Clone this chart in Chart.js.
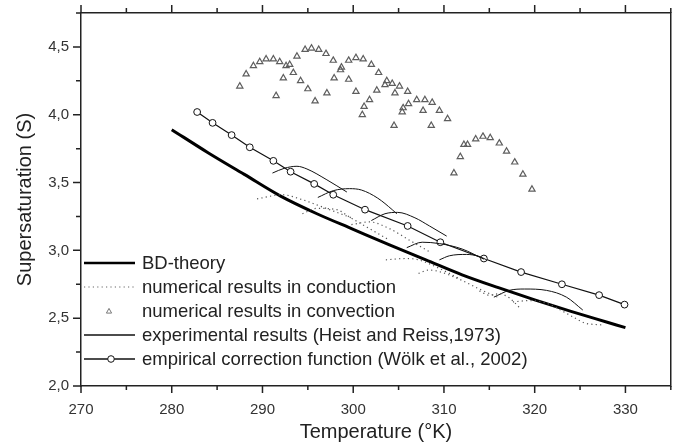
<!DOCTYPE html>
<html><head><meta charset="utf-8">
<script src="https://cdn.jsdelivr.net/npm/chart.js@4/dist/chart.umd.min.js"></script>
<style>html,body{margin:0;padding:0;background:#fff;}canvas{display:block;}</style>
</head><body>
<canvas id="c" width="676" height="447"></canvas>
<script>
// ---- tick labels & legend ----
const xTickLabels = ['270','280','290','300','310','320','330'];
const yTickLabels = ['2,0','2,5','3,0','3,5','4,0','4,5'];
const legendLabels = [
  'BD-theory',
  'numerical results in conduction',
  'numerical results in convection',
  'experimental results (Heist and Reiss,1973)',
  'empirical correction function (Wölk et al., 2002)'
];

// ---- BD-theory ----
const bdT = [280,284,288,292,296,300,304,308,312,316,320,324,328,330];
const bdS = [3.89,3.72,3.56,3.40,3.27,3.155,3.04,2.93,2.82,2.725,2.635,2.55,2.47,2.43];

// ---- empirical correction function (Wölk et al., 2002) ----
const empT = [282.8,284.5,286.6,288.6,291.2,293.1,295.7,297.8,301.3,306.0,309.6,314.4,318.5,323.0,327.1,329.9];
const empS = [4.02,3.94,3.85,3.76,3.66,3.58,3.49,3.41,3.30,3.18,3.06,2.94,2.84,2.75,2.67,2.60];

// ---- experimental results (Heist and Reiss, 1973): [T, S] ----
const exp1 = [[291.1,3.57],[292.4,3.605],[293.8,3.62],[294.9,3.60],[297.1,3.52],[299.3,3.43]];
const exp2 = [[296.1,3.39],[297.8,3.44],[299.6,3.455],[300.9,3.445],[302.7,3.385],[304.3,3.30],[304.8,3.27]];
const exp3 = [[302.0,3.22],[303.5,3.27],[304.9,3.28],[306.8,3.24],[308.4,3.18],[310.3,3.105]];
const exp4 = [[305.9,3.02],[307.6,3.06],[309.5,3.05],[312.0,3.01],[314.4,2.935]];
const exp5 = [[309.5,2.93],[310.6,2.96],[312.5,2.97],[313.9,2.955],[314.7,2.93]];
const exp6 = [[315.5,2.655],[317.2,2.705],[318.9,2.715],[321.3,2.705],[323.5,2.655],[325.3,2.56]];

// ---- numerical results in conduction: [T, S] ----
const cond1 = [[289.4,3.38],[292.2,3.41],[294.1,3.38],[296.6,3.32],[298.2,3.28],[299.8,3.24]];
const cond2 = [[294.4,3.27],[296.0,3.31],[298.2,3.30],[299.6,3.245],[301.8,3.16],[304.0,3.075]];
const cond3 = [[299.8,3.19],[301.8,3.21],[304.0,3.16],[306.2,3.075],[308.4,2.99]];
const cond4 = [[303.6,2.93],[305.8,2.94],[307.2,2.93],[309.4,2.87],[311.6,2.795]];
const cond5 = [[307.2,2.83],[308.3,2.855],[309.4,2.845],[311.6,2.79],[313.9,2.715],[316.1,2.65]];
const cond6 = [[313.9,2.70],[315.0,2.67],[316.1,2.68],[317.2,2.65],[318.3,2.58]];
const cond7 = [[317.6,2.62],[319.5,2.63],[321.3,2.61],[324.2,2.51],[325.5,2.465],[327.5,2.45]];

// ---- numerical results in convection ----
const convT = [287.5,288.2,289.0,289.7,290.4,291.2,291.9,292.6,293.0,293.4,292.3,291.5,294.2,295.0,295.8,297.1,
  293.8,294.7,295.4,296.2,297.0,297.8,298.7,298.6,297.9,299.5,299.5,300.3,301.1,302.0,302.8,300.3,301.8,301.2,301.0,
  302.6,303.5,303.7,304.3,305.1,304.6,306.0,305.5,305.4,304.5,306.1,307.0,307.9,308.7,309.5,310.4,307.7,308.6,
  311.1,311.8,312.2,312.6,313.5,314.3,315.1,316.1,316.9,317.8,318.7,319.7];
const convS = [4.21,4.30,4.36,4.39,4.41,4.41,4.39,4.36,4.37,4.31,4.27,4.14,4.25,4.19,4.10,4.16,
  4.43,4.48,4.49,4.48,4.45,4.40,4.35,4.33,4.27,4.26,4.40,4.42,4.41,4.37,4.31,4.17,4.11,4.06,4.00,
  4.18,4.22,4.25,4.23,4.21,4.16,4.17,4.05,4.02,3.92,4.08,4.11,4.11,4.09,4.03,3.97,4.03,3.92,
  3.57,3.69,3.78,3.78,3.82,3.84,3.83,3.79,3.73,3.65,3.56,3.45];

const FONT = '"Liberation Sans", Arial, Helvetica, sans-serif';
const INK = '#222';

const pairs = a => a.map(p => ({x: p[0], y: p[1]}));
const zip = (t, s) => t.map((v, i) => ({x: v, y: s[i]}));

const expSets = [exp1, exp2, exp3, exp4, exp5, exp6].map((a, i) => ({
  label: 'exp' + (i + 1), data: pairs(a), borderColor: '#111', borderWidth: 1,
  pointRadius: 0, cubicInterpolationMode: 'monotone', fill: false
}));
const condSets = [cond1, cond2, cond3, cond4, cond5, cond6, cond7].map((a, i) => ({
  label: 'cond' + (i + 1), data: pairs(a), borderColor: '#555', borderWidth: 1.2, borderDash: [1.2, 3.2],
  pointRadius: 0, cubicInterpolationMode: 'monotone', fill: false
}));

const noPad = s => { s.paddingLeft = 0; s.paddingRight = 0; s.paddingTop = 0; s.paddingBottom = 0; };

const frameTicks = {
  id: 'frameTicks',
  afterDraw(chart) {
    const {ctx, chartArea: a, scales: {x, y}} = chart;
    ctx.save();
    ctx.strokeStyle = INK; ctx.lineWidth = 1.5;
    ctx.beginPath();
    for (let k = 0; k <= 13; k++) {
      const v = 270 + k * 5;
      const px = x.getPixelForValue(v);
      const major = k % 2 === 0;
      ctx.moveTo(px, a.bottom); ctx.lineTo(px, a.bottom + (major ? 7 : 4));
      ctx.moveTo(px, a.top); ctx.lineTo(px, a.top - (major ? 8 : 5));
    }
    for (let k = 0; k <= 11; k++) {
      const v = 2 + k * 0.25;
      const py = y.getPixelForValue(v);
      const major = k % 2 === 0;
      ctx.moveTo(a.left, py); ctx.lineTo(a.left - (major ? 8 : 5), py);
    }
    ctx.stroke();
    ctx.restore();
  }
};

const legendBox = {
  id: 'legendBox',
  afterDraw(chart) {
    const ctx = chart.ctx;
    const x0 = 84, x1 = 135, tx = 142;
    const rows = [263, 287, 311, 335, 359];
    ctx.save();
    rows.forEach((ry, i) => {
      ctx.beginPath();
      ctx.setLineDash([]);
      if (i === 0) { ctx.strokeStyle = '#000'; ctx.lineWidth = 2.6; ctx.moveTo(x0, ry); ctx.lineTo(x1, ry); ctx.stroke(); }
      if (i === 1) { ctx.strokeStyle = '#666'; ctx.lineWidth = 1.2; ctx.setLineDash([1.2, 3.2]); ctx.moveTo(x0, ry); ctx.lineTo(x1, ry); ctx.stroke(); ctx.setLineDash([]); }
      if (i === 2) { ctx.strokeStyle = '#777'; ctx.lineWidth = 1; const cx = 109, r = 2.6;
        ctx.moveTo(cx, ry - r); ctx.lineTo(cx + r, ry + r * 0.8); ctx.lineTo(cx - r, ry + r * 0.8); ctx.closePath(); ctx.stroke(); }
      if (i === 3) { ctx.strokeStyle = '#111'; ctx.lineWidth = 1.3; ctx.moveTo(x0, ry); ctx.lineTo(x1, ry); ctx.stroke(); }
      if (i === 4) { ctx.strokeStyle = '#111'; ctx.lineWidth = 1.3; ctx.moveTo(x0, ry); ctx.lineTo(x1, ry); ctx.stroke();
        ctx.beginPath(); ctx.arc(111, ry, 3.3, 0, Math.PI * 2); ctx.fillStyle = '#fff'; ctx.fill(); ctx.lineWidth = 1; ctx.stroke(); }
      ctx.fillStyle = INK; ctx.font = '18.5px ' + FONT; ctx.textBaseline = 'middle'; ctx.textAlign = 'left';
      ctx.fillText(legendLabels[i], tx, ry + 1);
    });
    ctx.restore();
  }
};

new Chart(document.getElementById('c'), {
  type: 'line',
  data: {
    datasets: [
      ...condSets,
      ...expSets,
      { label: 'convection', type: 'scatter', data: zip(convT, convS), showLine: false,
        pointStyle: 'triangle', pointRadius: 3.6, borderColor: '#5e5e5e', backgroundColor: 'rgba(0,0,0,0)', borderWidth: 1.2 },
      { label: 'BD-theory', data: zip(bdT, bdS), borderColor: '#000', borderWidth: 3, pointRadius: 0,
        cubicInterpolationMode: 'monotone', fill: false },
      { label: 'empirical', data: zip(empT, empS), borderColor: '#111', borderWidth: 1.2, tension: 0,
        pointRadius: 3.4, pointBackgroundColor: '#fff', pointBorderColor: '#111', pointBorderWidth: 1, fill: false }
    ]
  },
  options: {
    responsive: false, animation: false, devicePixelRatio: 1,
    layout: { padding: 0 },
    plugins: { legend: { display: false }, tooltip: { enabled: false } },
    scales: {
      x: {
        type: 'linear', position: 'bottom', min: 270, max: 335,
        afterFit: s => { s.height = 61; noPad(s); },
        grid: { display: false, drawTicks: false },
        border: { display: true, color: INK, width: 1.5 },
        ticks: { stepSize: 5, autoSkip: false, maxRotation: 0, padding: 15, color: '#333',
          font: { family: FONT, size: 15 },
          callback: v => { const q = (v - 270) / 10; const i = Math.round(q); return Math.abs(q - i) < 1e-6 ? xTickLabels[i] : ''; } },
        title: { display: true, text: 'Temperature (°K)', color: INK, font: { family: FONT, size: 20 }, padding: { top: 0, bottom: 3 } }
      },
      x2: {
        type: 'linear', position: 'top', min: 270, max: 335,
        afterFit: s => { s.height = 13; noPad(s); },
        grid: { display: false, drawTicks: false }, ticks: { display: false },
        border: { display: true, color: INK, width: 1.5 }
      },
      y: {
        type: 'linear', position: 'left', min: 2, max: 4.75,
        afterFit: s => { s.width = 81; noPad(s); },
        grid: { display: false, drawTicks: false },
        border: { display: true, color: INK, width: 1.5 },
        ticks: { stepSize: 0.25, autoSkip: false, padding: 12, color: '#333',
          font: { family: FONT, size: 15 },
          callback: v => { const q = (v - 2) / 0.5; const i = Math.round(q); return Math.abs(q - i) < 1e-6 ? yTickLabels[i] : ''; } },
        title: { display: true, text: 'Supersaturation (S)', color: INK, font: { family: FONT, size: 20 }, padding: { top: 13, bottom: 0 } }
      },
      y2: {
        type: 'linear', position: 'right', min: 2, max: 4.75,
        afterFit: s => { s.width = 5; noPad(s); },
        grid: { display: false, drawTicks: false }, ticks: { display: false },
        border: { display: true, color: INK, width: 1.5 }
      }
    }
  },
  plugins: [frameTicks, legendBox]
});
</script>
</body></html>
